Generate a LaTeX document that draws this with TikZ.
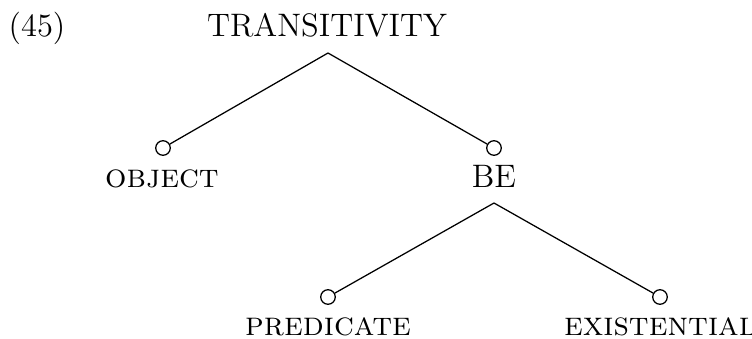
\documentclass[tikz,border=0pt]{standalone}
\begin{document}
\begin{tikzpicture}[x=0.357pt,y=-0.357pt,
  lbl/.style={anchor=base,inner sep=0pt,font=\fontsize{11.6}{14}\selectfont},
  sclbl/.style={anchor=base,inner sep=0pt,font=\fontsize{12}{14}\selectfont\scshape},
  leaf/.style={circle,draw,line width=0.45pt,inner sep=0pt,minimum size=5.2pt},
  branch/.style={line width=0.45pt}]
\useasboundingbox (0,0) rectangle (752,339);
\node[lbl] (num) at (37,36) {(45)};
\node[lbl] (top) at (327,36) {TRANSITIVITY};
\coordinate (apex1) at (328,53);
\node[leaf] (c1) at (163,148) {};
\node[leaf] (c2) at (494,148) {};
\node[sclbl] (obj) at (162,187) {object};
\node[lbl] (be) at (494,187) {BE};
\coordinate (apex2) at (494,203);
\node[leaf] (c3) at (328,297) {};
\node[leaf] (c4) at (660,297) {};
\node[sclbl] (pred) at (328,335) {predicate};
\node[sclbl] (exist) at (660,335) {existential};
\draw[branch] (apex1) -- (c1);
\draw[branch] (apex1) -- (c2);
\draw[branch] (apex2) -- (c3);
\draw[branch] (apex2) -- (c4);
\end{tikzpicture}
\end{document}
